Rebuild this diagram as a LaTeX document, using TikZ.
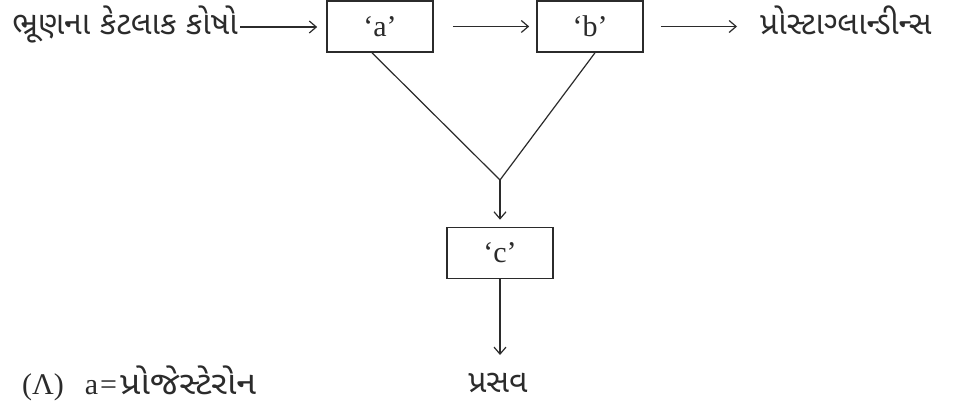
\documentclass[tikz,border=0pt]{standalone}
\usepackage{fontspec}
\setmainfont{Liberation Serif}
\newfontfamily\guj[Script=Gujarati]{Noto Sans Gujarati UI}
\usetikzlibrary{arrows.meta}
\definecolor{ink}{HTML}{2B2B2B}
\begin{document}
\begin{tikzpicture}[x=1pt,y=-1pt,
  box/.style={draw=ink, line width=1.6pt, minimum width=106pt, minimum height=51pt,
    inner sep=0pt, text=ink, font=\fontsize{30}{32}\selectfont},
  link/.style={draw=ink, line width=1.2pt},
  flow/.style={link, -{Straight Barb[length=7pt,width=12pt]}},
  gtext/.style={font=\guj\fontsize{32}{36}\selectfont, inner sep=0pt, text=ink},
]
\useasboundingbox[fill=white] (0,0) rectangle (955,409);

% boxes
\node[box] (a) at (380,26.5) {‘a’};
\node[box] (b) at (590,26.5) {‘b’};
\node[box] (c) at (500,253) {‘c’};

% labels
\node[gtext, anchor=base east] (cells) at (238,35) {ભ્રૂણના કેટલાક કોષો};
\node[gtext, anchor=base west] (pg) at (760,35) {પ્રોસ્ટાગ્લાન્ડીન્સ};
\node[gtext, anchor=base] (birth) at (498,392) {પ્રસવ};
\node[anchor=base west, inner sep=0pt, text=ink, font=\fontsize{30}{34}\selectfont] (opt) at (22,394)
  {(Λ)\hspace{21pt}a\hspace{2pt}=\hspace{3pt}{\guj\fontsize{32}{36}\selectfont\scalebox{1.12}[1]{પ્રોજેસ્ટેરોન}}};

\coordinate (j) at (500,180);

% connectors
\draw[flow, shorten >=9pt] (cells.base east) ++(2,-8) coordinate (s1) -- (a.west |- s1);
\draw[flow, shorten <=19pt, shorten >=7pt] (a.east) -- (b.west);
\draw[flow, shorten <=17pt, shorten >=23pt] (b.east) -- (pg.west |- b.east);
\draw[link] ([xshift=-8pt]a.south) -- (j) -- ([xshift=5pt]b.south);
\draw[flow, shorten >=7pt] (j) -- (c.north);
\draw[flow] (c.south) -- ([yshift=-355pt]c.south |- 0,0);
\end{tikzpicture}
\end{document}
